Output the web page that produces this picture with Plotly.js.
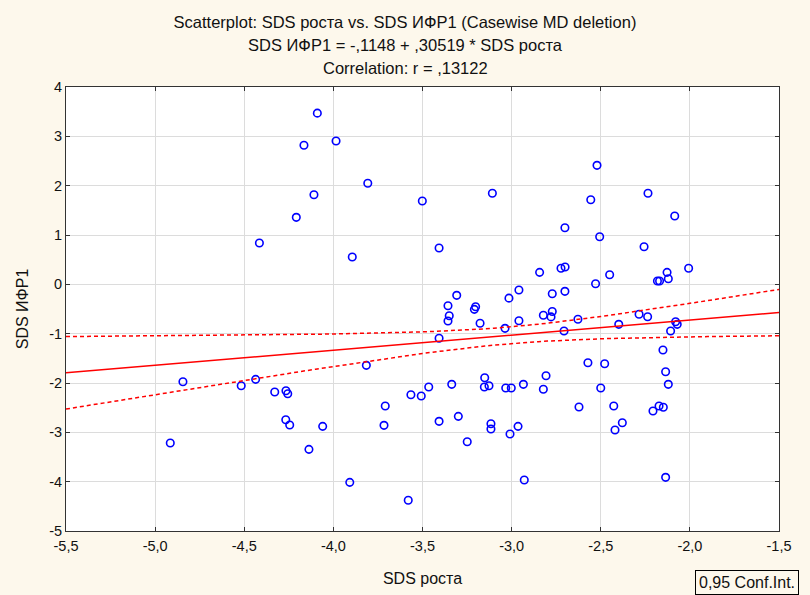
<!DOCTYPE html>
<html>
<head>
<meta charset="utf-8">
<script src="https://cdn.plot.ly/plotly-3.0.1.min.js"></script>
<style>html,body{margin:0;padding:0;background:#FDF8EC;}</style>
</head>
<body>
<div id="chart" style="width:810px;height:595px;"></div>
<script>
// SDS роста (x) values
const sdsHeight = [
  -4.09, -4.165, -4.109, -4.208, -4.415, -3.985, -3.807, -3.501, -3.108, -3.407,
  -3.894, -2.843, -2.723, -2.70, -2.959, -3.015, -3.308, -3.357, -3.350, -3.357,
  -3.202, -3.209, -2.772, -2.822, -2.772, -2.779, -2.521, -2.556, -2.235, -2.085,
  -2.701, -2.506, -2.257, -2.450, -2.529, -2.128, -2.121, -2.182, -2.170, -2.007,
  -2.701, -2.285, -2.237, -2.628, -2.706, -2.399, -2.080, -2.071, -2.108, -2.151,
  -2.572, -2.478, -2.807, -2.136, -2.822, -2.500, -2.121, -2.622, -2.427, -2.207,
  -2.173, -2.149, -2.420, -2.379, -2.136, -3.177, -2.959, -3.037, -3.407, -3.815,
  -4.060, -4.137, -3.908, -3.580, -3.709, -3.716, -3.565, -3.507, -3.465, -3.336,
  -3.407, -3.299, -3.249, -3.151, -3.153, -3.127, -3.116, -3.116, -3.033, -3.002,
  -2.934, -3.009, -2.964, -2.929, -4.844, -4.517, -4.436, -4.329, -4.266, -4.256,
  -4.267, -4.245, -4.915
];
// SDS ИФР1 (y) values
const sdsIgf1 = [
  3.47, 2.82, 1.817, 1.358, 0.838, 2.905, 2.048, 1.689, 1.845, 0.736,
  0.554, 0.243, 0.325, 0.35, -0.115, -0.28, -0.223, -0.433, -0.636, -0.743,
  -0.454, -0.507, -0.19, -0.628, -0.55, -0.66, 2.412, 1.716, 1.845, 1.385,
  1.148, 0.966, 0.763, 0.195, 0.013, 0.243, 0.114, 0.067, 0.067, 0.325,
  -0.142, -0.605, -0.656, -0.709, -0.946, -0.811, -0.757, -0.811, -0.946, -1.331,
  -1.589, -1.609, -1.852, -1.771, -2.128, -2.102, -2.027, -2.487, -2.467, -2.568,
  -2.467, -2.493, -2.953, -2.805, -3.912, -0.79, -0.737, -0.892, -1.094, -1.642,
  -2.879, -3.345, -4.014, -4.378, -2.467, -2.858, -2.237, -2.264, -2.082, -2.027,
  -2.777, -2.676, -3.190, -1.893, -2.082, -2.055, -2.825, -2.933, -2.102, -2.102,
  -2.027, -3.034, -2.879, -3.967, -1.974, -2.055, -1.926, -2.183, -2.156, -2.217,
  -2.744, -2.852, -3.217
];

// Regression shown in the title
const intercept = -0.1148;
const slope = 0.30519;
// Confidence band parameters
const ciMeanX = -3.02;
const ciHalfAtMean = 0.17;
const ciSlopeSpread = 0.288;

// Axis ticks
const xTickVals = [-5.5, -5.0, -4.5, -4.0, -3.5, -3.0, -2.5, -2.0, -1.5];
const xTickText = ['-5,5', '-5,0', '-4,5', '-4,0', '-3,5', '-3,0', '-2,5', '-2,0', '-1,5'];
const yTickVals = [-5, -4, -3, -2, -1, 0, 1, 2, 3, 4];
const yTickText = ['-5', '-4', '-3', '-2', '-1', '0', '1', '2', '3', '4'];

const xRange = [-5.5, -1.5];
const lineX = [], fitY = [], upY = [], loY = [];
for (let i = 0; i <= 80; i++) {
  const x = xRange[0] + (xRange[1] - xRange[0]) * i / 80;
  const f = intercept + slope * x;
  const h = Math.sqrt(ciHalfAtMean * ciHalfAtMean + Math.pow(ciSlopeSpread * (x - ciMeanX), 2));
  lineX.push(x); fitY.push(f); upY.push(f + h); loY.push(f - h);
}

const FONT = 'Liberation Sans, Arial, sans-serif';
const TXT = '#111111';

const traces = [
  {
    x: sdsHeight, y: sdsIgf1, type: 'scatter', mode: 'markers',
    marker: {symbol: 'circle-open', size: 7.5, color: '#0000FF', line: {width: 1.6, color: '#0000FF'}},
    hoverinfo: 'x+y'
  },
  {x: lineX, y: fitY, type: 'scatter', mode: 'lines', line: {color: '#FF0000', width: 1.5}},
  {x: lineX, y: upY, type: 'scatter', mode: 'lines', line: {color: '#FF0000', width: 1.5, dash: '4px,3px'}},
  {x: lineX, y: loY, type: 'scatter', mode: 'lines', line: {color: '#FF0000', width: 1.5, dash: '4px,3px'}}
];

const layout = {
  width: 810, height: 595,
  paper_bgcolor: '#FDF8EC',
  plot_bgcolor: '#FFFFFF',
  margin: {l: 66, r: 31, t: 87, b: 64},
  showlegend: false,
  font: {family: FONT, size: 14, color: TXT},
  title: {
    text: 'Scatterplot: SDS роста vs. SDS ИФР1 (Casewise MD deletion)',
    font: {family: FONT, size: 16.5, color: TXT},
    xref: 'container', x: 0.5, xanchor: 'center',
    yref: 'container', y: 1 - 22 / 595, yanchor: 'middle'
  },
  xaxis: {
    range: xRange, tickvals: xTickVals, ticktext: xTickText,
    showgrid: true, gridcolor: '#DCDCDC', gridwidth: 1, zeroline: false,
    showline: true, linecolor: '#333333', linewidth: 1, mirror: 'ticks',
    ticks: 'inside', ticklen: 4, tickcolor: '#333333', ticklabelstandoff: 2,
    tickfont: {family: FONT, size: 14.5, color: TXT},
    title: {text: 'SDS роста', font: {family: FONT, size: 16, color: TXT}, standoff: 19}
  },
  yaxis: {
    range: [-5, 4], tickvals: yTickVals, ticktext: yTickText,
    showgrid: true, gridcolor: '#DCDCDC', gridwidth: 1, zeroline: false,
    showline: true, linecolor: '#333333', linewidth: 1, mirror: 'ticks',
    ticks: 'inside', ticklen: 4, tickcolor: '#333333',
    tickfont: {family: FONT, size: 14.5, color: TXT},
    title: {text: 'SDS ИФР1', font: {family: FONT, size: 16, color: TXT}, standoff: 16}
  },
  annotations: [
    {text: 'SDS ИФР1 = -,1148 + ,30519 * SDS роста', xref: 'paper', yref: 'paper',
     x: (405 - 66) / 713, y: (531 - 45.5) / 444, xanchor: 'center', yanchor: 'middle',
     showarrow: false, font: {family: FONT, size: 16.5, color: TXT}},
    {text: 'Correlation: r = ,13122', xref: 'paper', yref: 'paper',
     x: (405 - 66) / 713, y: (531 - 68) / 444, xanchor: 'center', yanchor: 'middle',
     showarrow: false, font: {family: FONT, size: 16.5, color: TXT}},
    {text: '0,95 Conf.Int.', xref: 'paper', yref: 'paper',
     x: (746.5 - 66) / 713, y: (531 - 582) / 444, xanchor: 'center', yanchor: 'middle',
     showarrow: false, bordercolor: '#000000', borderwidth: 1, borderpad: 3,
     font: {family: FONT, size: 16, color: TXT}}
  ]
};

Plotly.newPlot('chart', traces, layout, {displayModeBar: false, responsive: false});
</script>
</body>
</html>
